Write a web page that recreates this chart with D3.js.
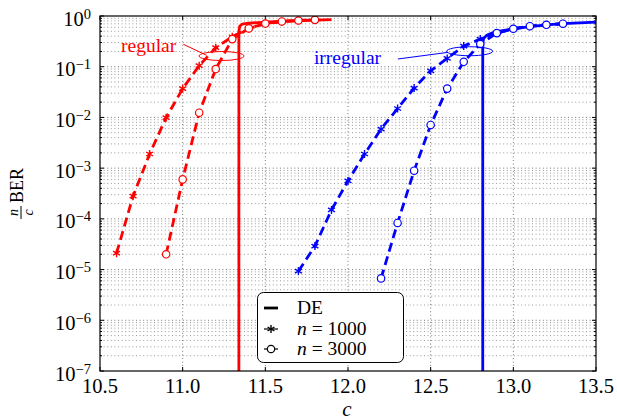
<!DOCTYPE html>
<html>
<head>
<meta charset="utf-8">
<script src="https://cdn.jsdelivr.net/npm/d3@7"></script>
<style>
  body { margin: 0; background: #fff; }
</style>
</head>
<body>
<svg id="chart" width="617" height="420" font-family="'Liberation Serif', 'DejaVu Serif', serif"></svg>
<script>
// data (c, BER)
var redDE_c      = [11.34, 11.34, 11.345, 11.36, 11.4, 11.5, 11.6, 11.7, 11.8, 11.9];
var redDE_ber    = [1e-8, 0.5, 0.63, 0.69, 0.72, 0.76, 0.79, 0.815, 0.83, 0.845];
var red1000_c    = [10.6, 10.7, 10.8, 10.9, 11.0, 11.1, 11.2, 11.3, 11.4, 11.5, 11.6, 11.7, 11.8];
var red1000_ber  = [2.1e-5, 2.8e-4, 1.9e-3, 9.9e-3, 0.037, 0.105, 0.237, 0.39, 0.57, 0.70, 0.77, 0.81, 0.835];
var red3000_c    = [10.9, 11.0, 11.1, 11.2, 11.3, 11.4, 11.5, 11.6, 11.7, 11.8];
var red3000_ber  = [2e-5, 6e-4, 0.0124, 0.09, 0.35, 0.57, 0.71, 0.78, 0.815, 0.84];

var blueDE_c     = [12.815, 12.815, 12.82, 12.84, 12.87, 12.9, 13.0, 13.1, 13.2, 13.3, 13.4, 13.5];
var blueDE_ber   = [1e-8, 0.28, 0.36, 0.42, 0.46, 0.49, 0.56, 0.62, 0.67, 0.705, 0.735, 0.76];
var blue1000_c   = [11.7, 11.8, 11.9, 12.0, 12.1, 12.2, 12.3, 12.4, 12.5, 12.6, 12.7, 12.8, 12.9, 13.0, 13.1, 13.2, 13.3];
var blue1000_ber = [9.3e-6, 2.9e-5, 1.5e-4, 5.6e-4, 1.9e-3, 5.9e-3, 0.015, 0.038, 0.083, 0.146, 0.255, 0.35, 0.46, 0.56, 0.63, 0.67, 0.70];
var blue3000_c   = [12.2, 12.3, 12.4, 12.5, 12.6, 12.7, 12.8, 12.9, 13.0, 13.1, 13.2, 13.3];
var blue3000_ber = [6.7e-6, 8.3e-5, 8.9e-4, 7.1e-3, 0.037, 0.125, 0.28, 0.46, 0.56, 0.63, 0.67, 0.705];

var xTicks = [10.5, 11.0, 11.5, 12.0, 12.5, 13.0, 13.5];
var yExps  = [0, -1, -2, -3, -4, -5, -6, -7];
var legendLabels = ["DE", "n = 1000", "n = 3000"];

function zip(cs, vs) { return cs.map(function(c, i) { return [c, vs[i]]; }); }

var svg = d3.select("svg#chart");
var pLeft = 100, pRight = 596, pTop = 16, pBottom = 371;

var x = d3.scaleLinear().domain([10.5, 13.5]).range([pLeft, pRight]);
var y = d3.scaleLog().domain([1e-7, 1]).range([pBottom, pTop]);

svg.append("defs").append("clipPath").attr("id", "plotclip")
  .append("rect").attr("x", pLeft).attr("y", pTop)
  .attr("width", pRight - pLeft).attr("height", pBottom - pTop);

// grid
var minorVals = [];
yExps.slice(1).forEach(function(e) {
  for (var k = 2; k <= 9; k++) minorVals.push(k * Math.pow(10, e));
});
var grid = svg.append("g");
grid.selectAll("line.minor").data(minorVals).enter().append("line")
  .attr("x1", pLeft).attr("x2", pRight)
  .attr("y1", function(d) { return y(d); }).attr("y2", function(d) { return y(d); })
  .attr("stroke", "#999").attr("stroke-width", 1).attr("stroke-dasharray", "1,2.6");
grid.selectAll("line.hmaj").data(yExps.slice(1, -1)).enter().append("line")
  .attr("x1", pLeft).attr("x2", pRight)
  .attr("y1", function(d) { return y(Math.pow(10, d)); }).attr("y2", function(d) { return y(Math.pow(10, d)); })
  .attr("stroke", "#777").attr("stroke-width", 1).attr("stroke-dasharray", "1,2.6");
grid.selectAll("line.vmaj").data(xTicks.slice(1, -1)).enter().append("line")
  .attr("y1", pTop).attr("y2", pBottom)
  .attr("x1", function(d) { return x(d); }).attr("x2", function(d) { return x(d); })
  .attr("stroke", "#777").attr("stroke-width", 1).attr("stroke-dasharray", "1,2.6");

// ticks (inward, all four sides)
var ticks = svg.append("g").attr("stroke", "#000").attr("stroke-width", 1);
xTicks.forEach(function(t) {
  ticks.append("line").attr("x1", x(t)).attr("x2", x(t)).attr("y1", pBottom).attr("y2", pBottom - 4);
  ticks.append("line").attr("x1", x(t)).attr("x2", x(t)).attr("y1", pTop).attr("y2", pTop + 4);
});
yExps.forEach(function(e) {
  var yy = y(Math.pow(10, e));
  ticks.append("line").attr("x1", pLeft).attr("x2", pLeft + 4).attr("y1", yy).attr("y2", yy);
  ticks.append("line").attr("x1", pRight).attr("x2", pRight - 4).attr("y1", yy).attr("y2", yy);
});
minorVals.forEach(function(v) {
  ticks.append("line").attr("x1", pLeft).attr("x2", pLeft + 2).attr("y1", y(v)).attr("y2", y(v));
  ticks.append("line").attr("x1", pRight).attr("x2", pRight - 2).attr("y1", y(v)).attr("y2", y(v));
});

// curves
var line = d3.line().x(function(d) { return x(d[0]); }).y(function(d) { return y(d[1]); });
var plot = svg.append("g").attr("clip-path", "url(#plotclip)");

var series = [
  { data: zip(redDE_c, redDE_ber), color: "#ff0000", dash: null, mark: null },
  { data: zip(red1000_c, red1000_ber), color: "#ff0000", dash: "9,5", mark: "star" },
  { data: zip(red3000_c, red3000_ber), color: "#ff0000", dash: "9,5", mark: "circle" },
  { data: zip(blueDE_c, blueDE_ber), color: "#0000ff", dash: null, mark: null },
  { data: zip(blue1000_c, blue1000_ber), color: "#0000ff", dash: "9,5", mark: "star" },
  { data: zip(blue3000_c, blue3000_ber), color: "#0000ff", dash: "9,5", mark: "circle" }
];

function drawStar(g, cx, cy, r, color) {
  [90, 30, 150].forEach(function(a) {
    var rad = a * Math.PI / 180;
    g.append("line")
      .attr("x1", cx - r * Math.cos(rad)).attr("y1", cy - r * Math.sin(rad))
      .attr("x2", cx + r * Math.cos(rad)).attr("y2", cy + r * Math.sin(rad))
      .attr("stroke", color).attr("stroke-width", 1.4);
  });
}

series.forEach(function(s) {
  plot.append("path").datum(s.data)
    .attr("d", line)
    .attr("fill", "none")
    .attr("stroke", s.color)
    .attr("stroke-width", 2.8)
    .attr("stroke-dasharray", s.dash);
});
series.forEach(function(s) {
  if (!s.mark) return;
  s.data.forEach(function(d) {
    if (s.mark === "star") drawStar(plot, x(d[0]), y(d[1]), 4, s.color);
    else plot.append("circle").attr("cx", x(d[0])).attr("cy", y(d[1])).attr("r", 3.7)
      .attr("fill", "#fff").attr("stroke", s.color).attr("stroke-width", 1.2);
  });
});

// annotations
var ann = svg.append("g");
ann.append("ellipse").attr("cx", x(11.235)).attr("cy", y(0.1626)).attr("rx", 22.5).attr("ry", 4.5)
  .attr("fill", "none").attr("stroke", "#ff0000").attr("stroke-width", 1);
ann.append("line").attr("x1", x(11.004)).attr("y1", y(0.277)).attr("x2", x(11.145)).attr("y2", y(0.168))
  .attr("stroke", "#ff0000").attr("stroke-width", 1);
ann.append("text").attr("x", x(10.627)).attr("y", y(0.195)).attr("fill", "#ff0000")
  .attr("font-size", 19.5).text("regular");
ann.append("ellipse").attr("cx", x(12.736)).attr("cy", y(0.202)).attr("rx", 23).attr("ry", 4.5)
  .attr("fill", "none").attr("stroke", "#0000ff").attr("stroke-width", 1);
ann.append("line").attr("x1", x(12.302)).attr("y1", y(0.142)).attr("x2", x(12.605)).attr("y2", y(0.192))
  .attr("stroke", "#0000ff").attr("stroke-width", 1);
ann.append("text").attr("x", x(11.794)).attr("y", y(0.113)).attr("fill", "#0000ff")
  .attr("font-size", 19.5).text("irregular");

// frame
svg.append("rect").attr("x", pLeft).attr("y", pTop).attr("width", pRight - pLeft).attr("height", pBottom - pTop)
  .attr("fill", "none").attr("stroke", "#000").attr("stroke-width", 1.2);

// tick labels
svg.selectAll("text.xt").data(xTicks).enter().append("text")
  .attr("x", function(d) { return x(d); }).attr("y", pBottom + 22)
  .attr("text-anchor", "middle").attr("font-size", 20.5)
  .text(function(d) { return d3.format(".1f")(d); });

var yl = svg.selectAll("text.yt").data(yExps).enter().append("text")
  .attr("x", pLeft - 9).attr("y", function(d) { return y(Math.pow(10, d)) + 9.5; })
  .attr("text-anchor", "end").attr("font-size", 20.5);
yl.append("tspan").text("10");
yl.append("tspan").attr("dy", -7).attr("font-size", 14.5)
  .text(function(d) { return d === 0 ? "0" : "\u2212" + (-d); });

// axis labels
svg.append("text").attr("x", 347).attr("y", 416).attr("text-anchor", "middle")
  .attr("font-size", 21).attr("font-style", "italic").text("c");

var ylab = svg.append("g").attr("transform", "translate(22,193) rotate(-90)");
ylab.append("text").attr("x", -10).attr("y", 1).attr("font-size", 18).text("BER");
ylab.append("line").attr("x1", -26).attr("x2", -13).attr("y1", -1).attr("y2", -1)
  .attr("stroke", "#000").attr("stroke-width", 1);
ylab.append("text").attr("x", -19.5).attr("y", -4).attr("text-anchor", "middle")
  .attr("font-size", 14).attr("font-style", "italic").text("n");
ylab.append("text").attr("x", -19.5).attr("y", 11).attr("text-anchor", "middle")
  .attr("font-size", 14).attr("font-style", "italic").text("c");

// legend
var lg = svg.append("g");
lg.append("rect").attr("x", 257.5).attr("y", 292.5).attr("width", 146).attr("height", 70)
  .attr("rx", 6).attr("fill", "#fff").attr("stroke", "#000").attr("stroke-width", 1);
var rowsY = [308, 329, 349];
legendLabels.forEach(function(lbl, i) {
  var cy = rowsY[i];
  lg.append("line").attr("x1", 264).attr("x2", 278).attr("y1", cy).attr("y2", cy)
    .attr("stroke", "#000").attr("stroke-width", i === 0 ? 2.8 : 1.2);
  if (i === 1) drawStar(lg, 271, cy, 4, "#000");
  if (i === 2) lg.append("circle").attr("cx", 271).attr("cy", cy).attr("r", 3.7)
    .attr("fill", "#fff").attr("stroke", "#000").attr("stroke-width", 1.2);
  var t = lg.append("text").attr("x", 297).attr("y", cy + 6).attr("font-size", 19.5);
  if (i === 0) t.text(lbl);
  else {
    var parts = lbl.split(" = ");
    t.append("tspan").attr("font-style", "italic").text(parts[0]);
    t.append("tspan").text(" = " + parts[1]);
  }
});
</script>
</body>
</html>
